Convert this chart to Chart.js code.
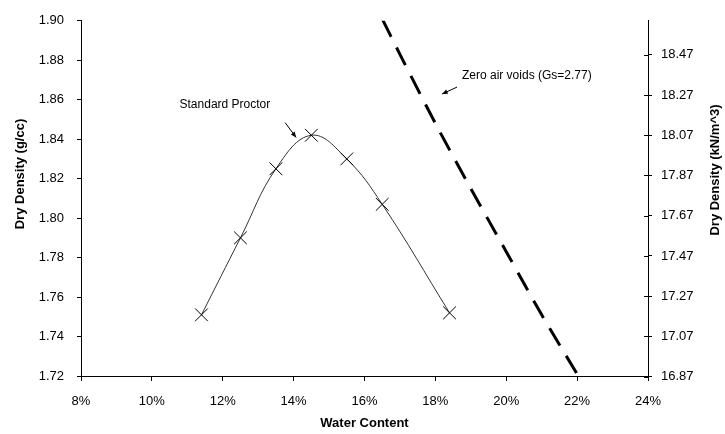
<!DOCTYPE html>
<html>
<head>
<meta charset="utf-8">
<title>Compaction curve</title>
<script src="https://cdn.jsdelivr.net/npm/chart.js@4.4.1/dist/chart.umd.min.js"></script>
<style>
    html, body { margin: 0; padding: 0; background: #fff; }
    #wrap { width: 725px; height: 434px; }
</style>
</head>
<body>
<div id="wrap"><canvas id="proctor-chart" width="725" height="434"></canvas></div>
<script>
// Standard Proctor test results
const waterContent = [11.4, 12.5, 13.5, 14.5, 15.5, 16.5, 18.4];
const dryDensity = [1.751, 1.790, 1.825, 1.842, 1.830, 1.807, 1.752];

// Zero air voids line (Gs = 2.77)
const zavWater = [16.5, 17, 18, 19, 20, 21, 22];
const zavDensity = [1.901, 1.883, 1.848, 1.815, 1.783, 1.751, 1.721];

// Axis ticks
const waterTicks = [8, 10, 12, 14, 16, 18, 20, 22, 24];
const densityTicks = [1.72, 1.74, 1.76, 1.78, 1.80, 1.82, 1.84, 1.86, 1.88, 1.90];
const unitWeightTicks = [16.87, 17.07, 17.27, 17.47, 17.67, 17.87, 18.07, 18.27, 18.47];

const G = 9.81;
const FONT = "'Liberation Sans', Arial, sans-serif";

// Notes placed in data units: [water %, dry density]
const notes = [
    { text: 'Standard Proctor', at: [12.06, 1.8574], from: [13.76, 1.8484], to: [14.07, 1.8409] },
    { text: 'Zero air voids (Gs=2.77)', at: [20.58, 1.872], from: [18.61, 1.8664], to: [18.19, 1.8629] }
];

const notesPlugin = {
    id: 'notes',
    afterDatasetsDraw(chart) {
        const { ctx, scales } = chart;
        const x = scales.x, y = scales.y, y2 = scales.y2;
        ctx.save();
        ctx.fillStyle = '#000';
        ctx.strokeStyle = '#000';
        ctx.font = '12px ' + FONT;
        ctx.textAlign = 'center';
        ctx.textBaseline = 'middle';
        notes.forEach((n) => {
            ctx.fillText(n.text, x.getPixelForValue(n.at[0]), y.getPixelForValue(n.at[1]));
            const x1 = x.getPixelForValue(n.from[0]), y1 = y.getPixelForValue(n.from[1]);
            const x2 = x.getPixelForValue(n.to[0]), y2p = y.getPixelForValue(n.to[1]);
            ctx.lineWidth = 1;
            ctx.beginPath();
            ctx.moveTo(x1, y1);
            ctx.lineTo(x2, y2p);
            ctx.stroke();
            const a = Math.atan2(y2p - y1, x2 - x1);
            ctx.beginPath();
            ctx.moveTo(x2, y2p);
            ctx.lineTo(x2 - 6 * Math.cos(a - 0.4), y2p - 6 * Math.sin(a - 0.4));
            ctx.lineTo(x2 - 6 * Math.cos(a + 0.4), y2p - 6 * Math.sin(a + 0.4));
            ctx.closePath();
            ctx.fill();
        });

        // inner half of the right axis ticks
        ctx.beginPath();
        unitWeightTicks.forEach((t) => {
            const py = Math.round(y2.getPixelForValue(t)) + 0.5;
            ctx.moveTo(y2.left - 4, py);
            ctx.lineTo(y2.left, py);
        });
        ctx.stroke();

        // vertical axis titles
        ctx.font = 'bold 13px ' + FONT;
        ctx.translate(20, 174);
        ctx.rotate(-Math.PI / 2);
        ctx.fillText('Dry Density (g/cc)', 0, 0);
        ctx.restore();

        ctx.save();
        ctx.fillStyle = '#000';
        ctx.font = 'bold 13px ' + FONT;
        ctx.textAlign = 'center';
        ctx.textBaseline = 'middle';
        ctx.translate(715, 170);
        ctx.rotate(-Math.PI / 2);
        ctx.fillText('Dry Density (kN/m^3)', 0, 0);
        ctx.restore();
    }
};

const tickFont = { family: FONT, size: 13 };

new Chart(document.getElementById('proctor-chart'), {
    type: 'scatter',
    data: {
        datasets: [
            {
                label: 'Standard Proctor',
                data: waterContent.map((w, i) => ({ x: w, y: dryDensity[i] })),
                showLine: true,
                tension: 0.4,
                borderColor: '#333',
                borderWidth: 1,
                pointStyle: 'crossRot',
                pointRadius: 9,
                pointBorderColor: '#000',
                pointBorderWidth: 1,
                pointHoverRadius: 9
            },
            {
                label: 'Zero air voids',
                data: zavWater.map((w, i) => ({ x: w, y: zavDensity[i] })),
                showLine: true,
                tension: 0.3,
                borderColor: '#000',
                borderWidth: 3,
                borderDash: [20, 12],
                pointRadius: 0
            }
        ]
    },
    options: {
        responsive: false,
        animation: false,
        devicePixelRatio: 1,
        layout: { padding: { top: 17, left: 0, right: 0, bottom: 0 } },
        plugins: {
            legend: { display: false },
            tooltip: { enabled: false }
        },
        scales: {
            x: {
                type: 'linear',
                position: 'bottom',
                min: 8,
                max: 24,
                afterBuildTicks: (s) => { s.ticks = waterTicks.map((v) => ({ value: v })); },
                afterFit: (s) => { s.height = 58; },
                ticks: {
                    callback: (v) => v + '%',
                    font: tickFont,
                    color: '#000',
                    padding: 13,
                    maxRotation: 0
                },
                grid: { drawOnChartArea: false, tickLength: 5, color: '#000' },
                border: { color: '#000', width: 1 },
                title: {
                    display: true,
                    text: 'Water Content',
                    color: '#000',
                    font: { family: FONT, size: 13, weight: 'bold' },
                    padding: { top: 0, bottom: 3 }
                }
            },
            y: {
                type: 'linear',
                position: 'left',
                min: 1.72,
                max: 1.90,
                afterBuildTicks: (s) => { s.ticks = densityTicks.map((v) => ({ value: v })); },
                afterFit: (s) => { s.width = 81; },
                ticks: {
                    callback: (v) => v.toFixed(2),
                    font: tickFont,
                    color: '#000',
                    padding: 13
                },
                grid: { drawOnChartArea: false, tickLength: 4, color: '#000' },
                border: { color: '#000', width: 1 }
            },
            y2: {
                type: 'linear',
                position: 'right',
                min: 1.72 * G,
                max: 1.90 * G,
                afterBuildTicks: (s) => { s.ticks = unitWeightTicks.map((v) => ({ value: v })); },
                afterFit: (s) => { s.width = 77; },
                ticks: {
                    callback: (v) => v.toFixed(2),
                    font: tickFont,
                    color: '#000',
                    padding: 9
                },
                grid: { drawOnChartArea: false, tickLength: 4, color: '#000' },
                border: { color: '#000', width: 1 }
            }
        }
    },
    plugins: [notesPlugin]
});
</script>
</body>
</html>
